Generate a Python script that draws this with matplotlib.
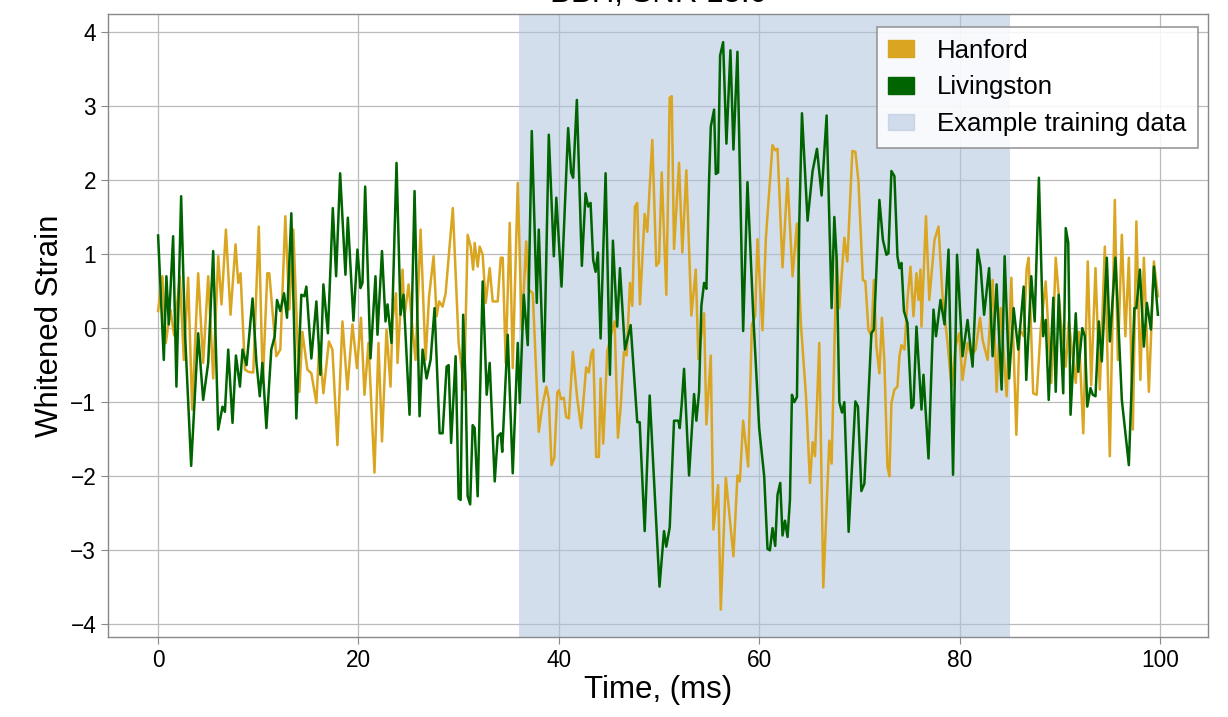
import matplotlib
matplotlib.use("Agg")
import matplotlib.pyplot as plt
from matplotlib.patches import Patch

plt.rcParams.update({
    "font.family": ["Liberation Sans", "DejaVu Sans"],
    "font.size": 16,
    "axes.edgecolor": "#888888",
    "axes.linewidth": 1.0,
    "xtick.color": "#888888",
    "ytick.color": "#888888",
    "xtick.labelcolor": "black",
    "ytick.labelcolor": "black",
})

# Livingston (green) - whitened strain
liv_t = [0.0, 0.57, 0.83, 1.07, 1.5, 1.83, 2.3, 2.67, 3.3, 4.0, 4.5, 5.0, 5.5, 6.0, 6.43,
         6.67, 7.0, 7.43, 7.77, 8.17, 8.43, 8.83, 9.43, 9.82, 10.15, 10.41, 10.81, 11.3,
         11.64, 11.87, 12.2, 12.57, 12.87, 13.3, 13.8, 14.3, 14.6, 14.8, 15.3, 15.8, 16.2,
         16.5, 16.95, 17.44, 17.77, 18.17, 18.7, 18.94, 19.5, 19.9, 20.2, 20.4, 20.67, 21.2,
         21.7, 21.9, 22.35, 22.7, 22.9, 23.3, 23.8, 24.2, 24.5, 25.1, 25.6, 26.1, 26.4, 26.8,
         27.2, 27.6, 28.1, 28.4, 28.8, 29.0, 29.25, 29.7, 30.0, 30.2, 30.45, 30.7, 30.9, 31.15,
         31.4, 31.6, 31.9, 32.4, 32.8, 33.1, 33.6, 33.9, 34.2, 34.35, 34.9, 35.4, 35.9, 36.1,
         36.5, 36.9, 37.3, 37.8, 38.0, 38.5, 39.0, 39.5, 39.75, 40.27, 40.93, 41.23, 41.43,
         41.8, 42.3, 42.67, 42.93, 43.17, 43.43, 43.67, 43.9, 44.17, 44.67, 45.1, 45.4, 45.83,
         46.1, 46.6, 47.17, 47.83, 48.07, 48.57, 49.07, 50.05, 50.5, 50.73, 51.07, 51.5, 51.93,
         52.07, 52.27, 52.5, 53.0, 53.5, 53.73, 54.0, 54.23, 54.5, 54.73, 55.0, 55.17, 55.5,
         55.67, 55.9, 56.1, 56.4, 56.73, 57.13, 57.43, 57.83, 58.4, 58.83, 59.4, 60.0, 60.5,
         60.83, 61.07, 61.33, 61.6, 61.83, 62.1, 62.33, 62.57, 62.83, 63.07, 63.27, 63.5,
         63.77, 64.0, 64.27, 64.83, 65.33, 65.77, 66.23, 66.73, 67.23, 67.5, 67.73, 68.0,
         68.27, 68.5, 68.93, 69.6, 69.86, 70.2, 70.5, 71.2, 71.45, 72.0, 72.35, 72.7, 72.9,
         73.2, 73.5, 73.8, 74.0, 74.2, 74.45, 74.8, 75.2, 75.4, 75.7, 76.2, 76.4, 76.9, 77.4,
         77.65, 78.1, 78.5, 78.9, 79.35, 79.75, 80.3, 80.8, 81.3, 81.8, 82.1, 82.45, 82.95,
         83.3, 83.7, 84.2, 84.5, 84.95, 85.4, 85.86, 86.4, 86.66, 87.16, 87.5, 87.92, 88.35,
         88.6, 88.9, 89.36, 89.6, 89.9, 90.35, 90.6, 90.85, 91.08, 91.6, 91.85, 92.25, 92.5,
         92.75, 93.07, 93.3, 93.57, 93.9, 94.2, 94.7, 95.0, 95.56, 96.2, 96.9, 97.45, 97.65,
         98.0, 98.4, 98.7, 99.1, 99.4, 99.8]
liv_v = [1.25, -0.43, 0.7, 0.05, 1.24, -0.79, 1.78, -0.02, -1.86, -0.07, -0.97, -0.47, 1.04,
         -1.37, -1.06, -1.13, -0.29, -1.28, -0.37, -0.79, -0.29, -0.5, 0.4, -0.47, -0.92,
         -0.47, -1.35, -0.29, -0.11, 0.38, 0.23, 0.47, 0.14, 1.55, -1.22, 0.45, 0.43, 0.56,
         -0.41, 0.36, -0.63, 0.59, -0.07, 1.62, 0.7, 2.09, 0.72, 1.49, 0.1, 1.06, 0.54, 0.61,
         1.91, -0.41, 0.7, -0.09, 1.04, 0.09, 0.32, -0.2, 2.23, 0.18, 0.45, -1.17, 1.85,
         -1.19, -0.29, -0.68, -0.43, 0.27, -1.42, -1.42, -0.52, -0.5, -1.55, -0.38, -2.3,
         -2.32, 0.18, -0.79, -2.27, -2.38, -1.31, -1.35, -2.27, 0.63, -0.9, -0.47, -2.07,
         -1.46, -1.42, -1.67, -0.09, -1.96, -0.2, -1.01, 0.45, -0.23, 2.66, 0.34, 1.33, -0.72,
         2.61, 0.97, 1.76, 0.56, 2.7, 2.1, 2.03, 3.08, 0.84, 1.82, 1.64, 1.69, 0.92, 0.76,
         1.02, -0.14, 2.09, -0.63, 1.18, 0.02, 0.81, -0.29, 0.04, -1.27, -1.27, -2.74, -0.91,
         -3.49, -2.74, -2.95, -2.69, -1.25, -1.25, -1.35, -1.02, -0.55, -1.99, -0.89, -1.25,
         -0.86, 0.3, 0.61, 0.53, 2.0, 2.72, 2.95, 2.08, 2.1, 3.68, 3.86, 2.49, 3.75, 2.41,
         3.73, -0.04, 1.97, 0.2, -1.35, -2.0, -2.98, -3.0, -2.7, -2.94, -2.25, -2.09, -2.8,
         -2.6, -2.82, -2.32, -0.9, -1.0, -0.93, 1.41, 2.9, 1.45, 2.12, 2.42, 1.79, 2.87, 0.27,
         1.5, 0.94, -1.0, -1.14, -1.0, -2.75, -0.99, -1.06, -2.2, -2.1, -0.07, -0.02, 1.73,
         1.19, 0.99, 1.01, 2.12, 2.05, 0.97, 0.81, 0.88, 0.23, 0.07, -1.08, -1.04, 0.02, -1.1,
         -0.63, -1.76, 0.25, -0.11, 0.38, 0.05, 1.06, -1.98, 0.99, -0.38, 0.11, -0.52, 1.06,
         0.83, 0.18, 0.81, -0.38, 0.59, -0.83, 0.97, -0.68, 0.27, -0.29, 0.56, -0.7, 0.7,
         0.09, 2.03, -0.11, 0.11, -0.97, 0.41, -0.86, 0.45, -0.88, 1.35, 1.15, -1.17, 0.2,
         -0.59, 0.0, -0.11, -1.06, -0.81, -0.9, -0.92, 0.09, -0.45, 0.95, -0.18, 0.95, -0.97,
         -1.85, 0.27, 0.27, 0.79, -0.25, 0.34, -0.02, 0.83, 0.18]

# Hanford (gold)
han_t = [0.0, 0.43, 0.77, 1.23, 1.6, 2.17, 2.57, 3.0, 3.4, 4.0, 4.5, 5.0, 5.5, 6.0, 6.33,
         6.77, 7.23, 7.73, 8.0, 8.23, 8.67, 9.0, 9.5, 10.05, 10.45, 10.9, 11.1, 11.8, 12.2,
         12.7, 13.1, 13.5, 14.1, 14.4, 14.9, 15.3, 15.8, 16.1, 16.5, 17.05, 17.4, 17.9, 18.4,
         18.9, 19.4, 19.85, 20.25, 20.6, 21.0, 21.6, 22.0, 22.35, 22.8, 23.2, 23.4, 23.75,
         23.9, 24.4, 24.6, 25.0, 25.4, 25.7, 26.2, 26.7, 27.05, 27.5, 27.8, 28.05, 28.4, 28.7,
         29.42, 30.0, 30.55, 30.9, 31.2, 31.45, 31.6, 31.9, 32.1, 32.4, 32.7, 33.1, 33.4,
         33.9, 34.2, 34.4, 34.7, 35.1, 35.4, 35.9, 36.3, 36.75, 37.0, 37.4, 37.7, 38.0, 38.35,
         38.75, 39.0, 39.27, 39.55, 39.85, 40.0, 40.23, 40.5, 40.73, 41.0, 41.4, 41.83, 42.23,
         42.73, 43.0, 43.23, 43.43, 43.73, 44.0, 44.17, 44.43, 44.83, 45.17, 45.57, 45.9,
         46.17, 46.5, 46.77, 47.1, 47.33, 47.6, 47.83, 48.1, 48.57, 48.83, 49.33, 49.73, 50.0,
         50.27, 50.73, 51.07, 51.27, 51.5, 52.0, 52.33, 52.73, 53.23, 53.67, 53.93, 54.5,
         54.73, 55.17, 55.43, 55.9, 56.17, 56.67, 57.43, 57.83, 58.07, 58.4, 58.9, 59.27,
         59.6, 59.83, 60.33, 60.67, 61.33, 61.6, 61.83, 62.33, 62.83, 63.33, 63.77, 64.17,
         64.67, 65.07, 65.33, 65.57, 66.0, 66.4, 67.0, 67.23, 67.73, 68.0, 68.5, 68.8, 69.3,
         69.6, 69.9, 70.35, 70.6, 70.9, 71.2, 71.45, 71.7, 72.0, 72.25, 72.5, 72.8, 73.0, 73.2,
         73.5, 73.8, 74.0, 74.2, 74.5, 74.8, 75.1, 75.4, 75.7, 75.9, 76.1, 76.2, 76.65, 76.98,
         77.5, 77.9, 78.3, 78.8, 79.2, 79.6, 79.96, 80.3, 80.8, 81.2, 81.6, 82.05, 82.3, 82.8,
         83.3, 83.7, 84.1, 84.7, 85.17, 85.67, 86.0, 86.4, 86.7, 86.9, 87.35, 87.7, 88.1,
         88.6, 89.16, 89.6, 90.1, 90.6, 90.9, 91.6, 91.9, 92.35, 92.8, 93.14, 93.57, 94.0,
         94.5, 95.0, 95.5, 95.8, 96.2, 96.55, 96.9, 97.3, 97.65, 98.05, 98.4, 98.9, 99.4, 99.8]
han_v = [0.23, 0.7, -0.2, 0.25, -0.1, 0.7, -0.43, 0.68, -1.1, 0.74, -0.47, 0.7, -0.68, 0.97,
         0.32, 1.33, 0.18, 1.13, 0.61, 0.74, -0.56, -0.59, -0.6, 1.37, -0.74, 0.74, 0.74,
         -0.38, -0.29, 1.51, 0.25, 1.33, -0.86, -0.05, -0.56, -0.61, -1.01, -0.2, -0.88, -0.18,
         -0.29, -1.58, 0.09, -0.83, 0.05, -0.54, 0.14, -0.9, -0.2, -1.95, -0.2, -1.53, -0.02,
         -0.79, 0.11, 0.47, -0.47, 0.79, 0.16, 0.59, -0.02, -0.43, 1.33, -0.43, 0.43, 0.97,
         0.16, 0.36, 0.29, 0.47, 1.62, -0.2, -0.83, 1.26, 1.1, 0.79, 1.15, 0.83, 1.1, 0.99,
         0.34, 0.81, 0.36, 0.36, 0.95, 0.95, -0.47, 1.42, -0.54, 1.96, -0.02, 1.17, 0.52, 0.47,
         -0.47, -1.4, -1.06, -0.79, -0.96, -1.85, -1.75, -0.87, -0.84, -0.96, -0.94, -1.2,
         -1.22, -0.32, -0.94, -1.35, -0.53, -0.6, -0.35, -0.29, -1.74, -1.74, -0.68, -1.56,
         -0.32, -0.11, 0.09, -1.48, -1.07, -0.32, -0.37, 0.61, 0.3, 1.64, 1.69, 0.32, 1.54,
         1.3, 2.54, 0.84, 0.89, 2.1, 0.45, 3.11, 3.13, 1.07, 2.23, 1.02, 2.13, 0.17, 0.79,
         -0.42, 0.2, -1.3, -0.37, -2.72, -2.12, -3.8, -2.02, -3.08, -1.99, -2.07, -1.25, -1.87,
         0.04, 0.17, 1.2, -0.03, 1.22, 2.47, 2.4, 2.42, 0.82, 2.02, 0.7, 1.41, 0.04, -0.91,
         -2.09, -1.54, -1.73, -0.2, -3.5, -1.52, -1.83, 0.98, 0.27, 1.22, 0.9, 2.39, 2.38,
         2.0, 0.65, 0.63, -0.02, -0.11, 0.65, -0.25, -0.61, 0.14, -0.47, -1.87, -2.0, -1.01,
         -0.83, -0.79, -0.38, -0.23, -0.29, 0.38, 0.83, 0.16, 0.74, 0.38, 0.79, 0.02, 1.51,
         0.38, 1.19, 1.37, 0.43, -0.2, -0.79, -0.25, -0.07, -0.7, -0.2, -0.38, -0.29, 0.14,
         -0.16, -0.43, 0.65, -0.86, 0.27, -0.92, 0.68, -1.44, -0.02, -0.11, 0.81, 0.95, -0.88,
         -0.9, -0.02, 0.63, -0.74, 0.95, 0.11, -0.52, 0.09, -0.74, -0.05, -1.42, 0.9, -0.77,
         0.81, -0.83, 1.1, -1.73, 1.73, -0.43, 1.26, -0.11, 0.95, -1.37, 1.44, -0.7, 0.95,
         -0.86, 0.9, 0.43]

train_window = (36, 85)
title = "BBH, SNR 15.0"

HAN_COLOR = "goldenrod"
LIV_COLOR = "darkgreen"
SPAN_COLOR = "lightsteelblue"

fig = plt.figure(figsize=(12.28, 7.17), dpi=100)
ax = fig.add_axes([108 / 1228, 1 - 637 / 717, 1100 / 1228, 623 / 717])

ax.axvspan(*train_window, color=SPAN_COLOR, alpha=0.55, lw=0)
ax.plot(han_t, han_v, color=HAN_COLOR, lw=1.8)
ax.plot(liv_t, liv_v, color=LIV_COLOR, lw=1.8)

ax.set_xlim(-5, 104.8)
ax.set_ylim(-4.17, 4.24)
ax.set_xticks([0, 20, 40, 60, 80, 100])
ax.set_yticks(range(-4, 5))
ax.grid(True, color="#bbbbbb", lw=0.9)
ax.set_axisbelow(True)
ax.tick_params(labelsize=16.3, length=5)

ax.set_xlabel("Time, (ms)", fontsize=22.5, labelpad=2)
ax.set_ylabel("Whitened Strain", fontsize=22.5)
# title sits mostly above the canvas, as in the source image
ax.set_title(title, fontsize=22.5, pad=9)

handles = [Patch(color=HAN_COLOR, label="Hanford"),
           Patch(color=LIV_COLOR, label="Livingston"),
           Patch(color=SPAN_COLOR, alpha=0.55, label="Example training data")]
leg = ax.legend(handles=handles, loc="upper right", bbox_to_anchor=(0.991, 0.979),
                fontsize=18.5, fancybox=False, edgecolor="#888888", framealpha=0.85,
                borderpad=0.45, handlelength=1.0, handleheight=0.6, handletextpad=0.9,
                labelspacing=0.5, borderaxespad=0.0)
leg.get_frame().set_linewidth(1.2)

fig.savefig("out.png", dpi=100)
